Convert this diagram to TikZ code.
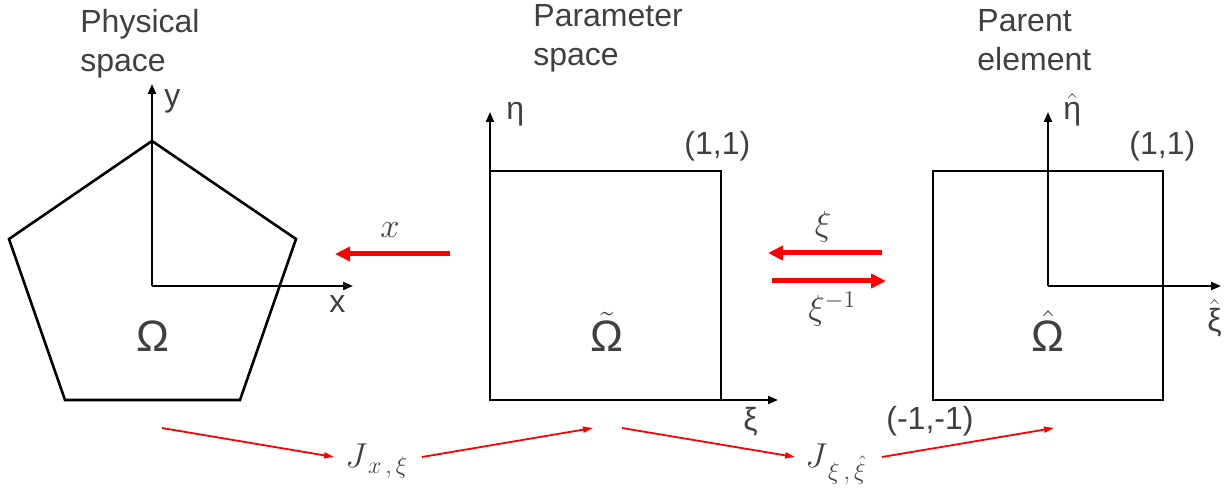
\documentclass[tikz,border=0pt]{standalone}
\usepackage{fontspec}
\setmainfont{Liberation Sans}
\usetikzlibrary{arrows.meta}
\usetikzlibrary{positioning}
\definecolor{txt}{HTML}{404040}
\definecolor{map}{HTML}{FF0000}
\newcommand{\tld}[1]{$\tilde{\hbox{#1}}$}
\newcommand{\hatt}[1]{$\hat{\hbox{#1}}$}

\begin{document}
\begin{tikzpicture}[
		x=0.5pt, y=-0.5pt,
		ttl/.style = {align=left, anchor=north west, inner sep=0pt, text=txt, font=\fontsize{16}{19.5}\selectfont},
		lab/.style = {inner sep=0pt, anchor=base west, text=txt, font=\fontsize{16}{19.5}\selectfont},
		dom/.style = {inner sep=0pt, anchor=base, text=txt, font=\fontsize{22}{26}\selectfont},
		mth/.style = {inner sep=0pt, text=txt, font=\fontsize{17}{20}\selectfont},
		jlab/.style = {inner sep=0pt, anchor=base west, text=txt, font=\fontsize{17}{20}\selectfont},
		edge/.style = {black, line width=1.3pt},
		ax/.style = {-{Triangle[length=5pt, width=4pt]}, black, line width=1pt},
		big/.style = {-{Triangle[length=7.5pt, width=7pt]}, map, line width=2.5pt},
		jac/.style = {-{Triangle[length=5pt, width=3pt]}, map, line width=0.9pt}
		]
		\useasboundingbox (0,0) rectangle (1229,490);
		
		%Physical space
		\node[ttl]	(phys)	at	(80,9)		{Physical\\space};
		\coordinate	(o1)	at	(152,286);
		\draw[edge]	(152,141) -- (296,239) -- (240,400) -- (65,400) -- (9,239) -- cycle;
		\draw[ax]	(o1) -- (152,84);
		\draw[ax]	(o1) -- (353,286);
		\node[lab]	(y)		at	(164,107)	{y};
		\node[lab]	(x)		at	(329,313)	{x};
		\node[dom]	(om)	at	(153,352)	{Ω};
		
		%Parameter space
		\node[ttl]	(para)	at	(533,4)		{Parameter\\space};
		\coordinate	(o2)	at	(490,400);
		\draw[edge]	(490,171) rectangle (721,400);
		\draw[ax]	(o2) -- (490,112);
		\draw[ax]	(o2) -- (778,400);
		\node[lab]	(eta)	at	(506,120)	{η};
		\node[lab]	(xi)	at	(743,431)	{ξ};
		\node[lab]	(one2)	at	(684,155)	{(1,1)};
		\node[dom]	(omt)	at	(607,352)	{\tld{Ω}};
		
		%Parent element
		\node[ttl]	(par)	at	(977,9)		{Parent\\element};
		\coordinate	(o3)	at	(1048,286);
		\draw[edge]	(933,171) rectangle (1163,400);
		\draw[ax]	(o3) -- (1048,112);
		\draw[ax]	(o3) -- (1221,286);
		\node[lab]	(etah)	at	(1063,120)	{\hatt{η}};
		\node[lab]	(xih)	at	(1207,332)	{\hatt{ξ}};
		\node[lab]	(one3)	at	(1129,155)	{(1,1)};
		\node[lab]	(mone)	at	(886,430)	{(-1,-1)};
		\node[dom]	(omh)	at	(1048,352)	{\hatt{Ω}};
		
		%Maps
		\coordinate	(xa)	at	(450,254);
		\coordinate	(xb)	at	(335,254);
		\coordinate	(fa)	at	(882,253);
		\coordinate	(fb)	at	(768,253);
		\coordinate	(ga)	at	(772,281);
		\coordinate	(gb)	at	(886,281);
		\draw[big]	(xa) -- (xb);
		\draw[big]	(fa) -- (fb);
		\draw[big]	(ga) -- (gb);
		\node[mth, anchor=base]			(mx)	at	(390,238)	{$x$};
		\node[mth, anchor=base]			(mxi)	at	(823,236)	{$\xi$};
		\node[mth, anchor=base west]	(mxiv)	at	(808,320)	{$\xi^{-1}$};
		
		%Jacobians
		\node[jlab]	(j1)	at	(345,468)	{$J_{\,x\,,\,\xi}$};
		\node[jlab]	(j2)	at	(805,468)	{$J_{\,\xi\,,\,\hat{\xi}}$};
		\coordinate	(a1)	at	(162,428);
		\coordinate	(b1)	at	(334,457);
		\coordinate	(c1)	at	(422,457);
		\coordinate	(d1)	at	(593,428);
		\coordinate	(a2)	at	(622,428);
		\coordinate	(b2)	at	(795,457);
		\coordinate	(c2)	at	(882,457);
		\coordinate	(d2)	at	(1054,428);
		\draw[jac]	(a1) -- (b1);
		\draw[jac]	(c1) -- (d1);
		\draw[jac]	(a2) -- (b2);
		\draw[jac]	(c2) -- (d2);
	\end{tikzpicture}
\end{document}
